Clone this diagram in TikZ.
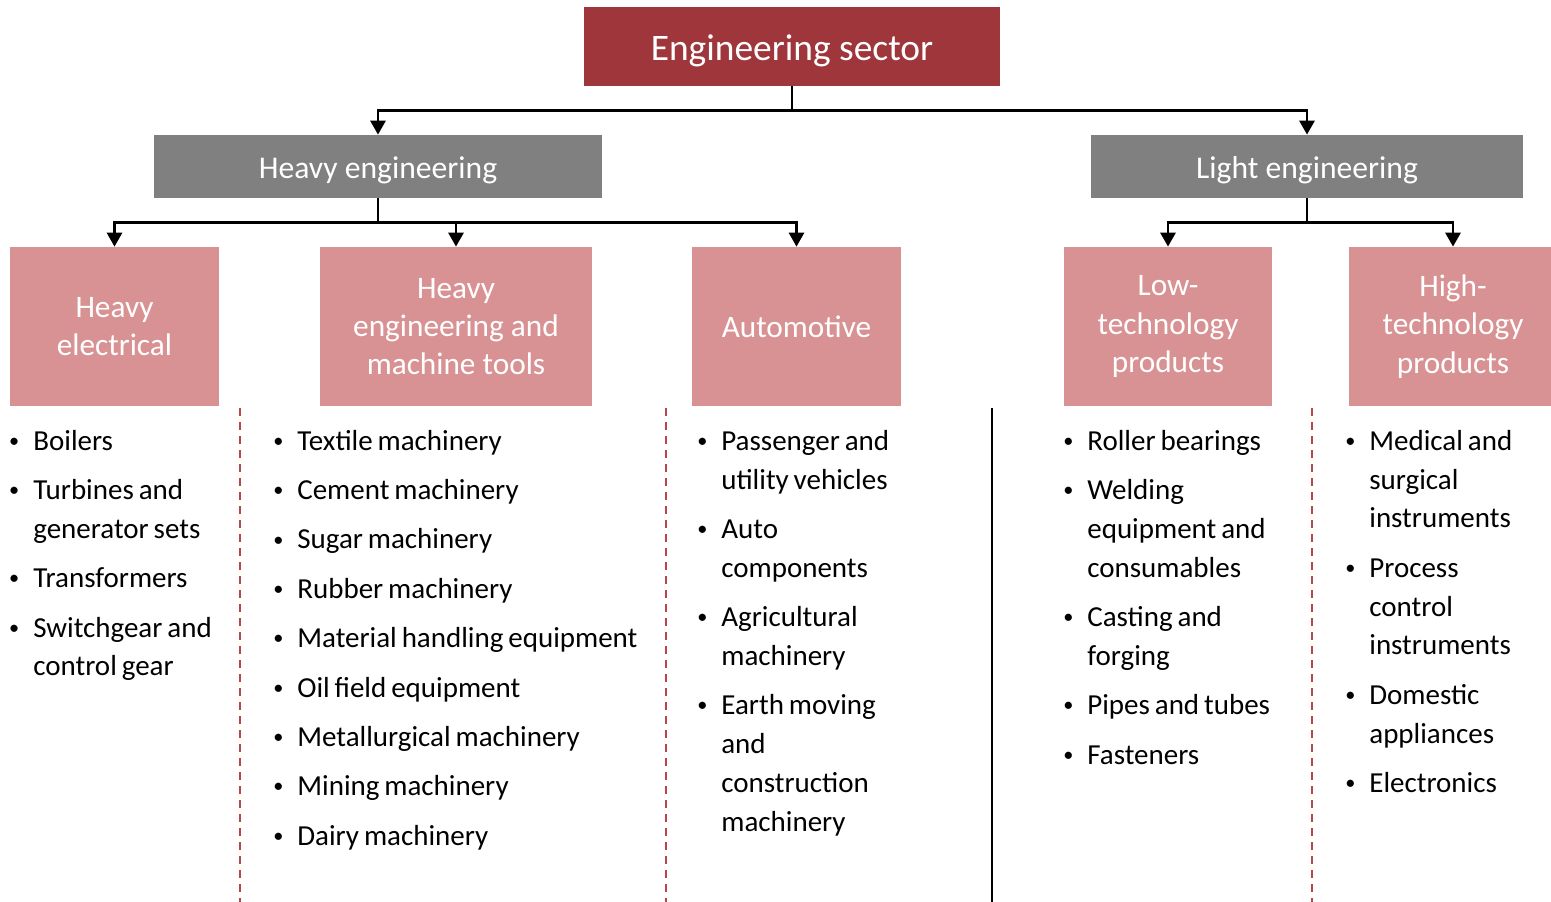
\documentclass[tikz,border=0pt]{standalone}
\usepackage{fontspec}
\usepackage{graphicx}
\setmainfont{Carlito}
\usetikzlibrary{arrows.meta}

\newlength{\px}
\setlength{\px}{0.02cm}

\definecolor{sectorred}{RGB}{158,54,60}
\definecolor{groupgray}{RGB}{128,128,128}
\definecolor{subpink}{RGB}{217,146,148}
\definecolor{dashred}{RGB}{184,70,76}

% small bullet and the list used under each sub-sector
\newcommand{\itemdot}{\raisebox{0.1em}{\scalebox{0.7}{\textbullet}}}
\newenvironment{itemcol}{\raggedright\spaceskip=0.17em plus 0.05em\begin{list}{\itemdot}{%
  \setlength{\leftmargin}{25\px}\setlength{\labelwidth}{11\px}%
  \setlength{\labelsep}{14\px}\setlength{\itemsep}{6pt}%
  \setlength{\parsep}{0pt}\setlength{\topsep}{0pt}}}{\end{list}}

\tikzset{
  sectorbox/.style={rectangle, fill=sectorred, text=white, inner sep=0pt,
    minimum width=8.32cm, minimum height=1.58cm, text height=20.4pt, text depth=4.3pt,
    font=\fontsize{21.3}{25}\selectfont},
  groupbox/.style={rectangle, fill=groupgray, text=white, inner sep=0pt,
    minimum height=1.26cm, text height=17.3pt, text depth=3.6pt,
    font=\fontsize{18}{22}\selectfont},
  subbox/.style={rectangle, fill=subpink, text=white, inner sep=0pt, align=center,
    minimum height=3.18cm, font=\fontsize{17.8}{21.8}\selectfont},
  itembox/.style={anchor=north west, inner sep=0pt, text width=9cm,
    font=\fontsize{16.5}{22.1}\selectfont},
  link/.style={line width=1.6pt, -{Triangle[length=0.28cm,width=0.3cm]}},
  divider/.style={line width=1.2pt},
  dashdivider/.style={divider, dashred, dash pattern=on 8\px off 6\px}
}

\begin{document}
\begin{tikzpicture}[x=0.02cm,y=-0.02cm]
\useasboundingbox (0,0) rectangle (1551,902);

% top level
\node[sectorbox] (sector) at (792,46.5) {Engineering sector};

% heavy and light engineering
\node[groupbox, minimum width=8.96cm] (heavy) at (378,166.5) {Heavy engineering};
\node[groupbox, minimum width=8.64cm] (light) at (1307,166.5) {Light engineering};

% sub-sectors
\node[subbox, minimum width=4.18cm] (helec) at (114.5,326.5) {Heavy\\electrical};
\node[subbox, minimum width=5.44cm] (hmach) at (456,326.5) {Heavy\\engineering and\\machine tools};
\node[subbox, minimum width=4.18cm] (auto) at (796.5,326.5) {Automotive};
\node[subbox, minimum width=4.16cm] (lowtech) at (1168,326.5) {Low-\\technology\\products};
\node[subbox, minimum width=4.16cm] (hightech) at (1453,326.5) {High-\\technology\\products};

% connectors
\draw[link] (sector.south) -- ++(0,24) -| (heavy.north);
\draw[link] (sector.south) -- ++(0,24) -| (light.north);
\draw[link] (heavy.south) -- ++(0,24) -| (helec.north);
\draw[link] (heavy.south) -- ++(0,24) -| (hmach.north);
\draw[link] (heavy.south) -- ++(0,24) -| (auto.north);
\draw[link] (light.south) -- ++(0,24) -| (lowtech.north);
\draw[link] (light.south) -- ++(0,24) -| (hightech.north);

% column separators
\draw[dashdivider] (240,408) -- (240,902);
\draw[dashdivider] (666,408) -- (666,902);
\draw[divider] (992,408) -- (992,902);
\draw[dashdivider] (1312,408) -- (1312,902);

% item lists
\node[itembox] (helecitems) at (8,411) {\begin{itemcol}
  \item Boilers
  \item Turbines and\\generator sets
  \item Transformers
  \item Switchgear and\\control gear
\end{itemcol}};
\node[itembox] (hmachitems) at (272,411) {\begin{itemcol}
  \item Textile machinery
  \item Cement machinery
  \item Sugar machinery
  \item Rubber machinery
  \item Material handling equipment
  \item Oil field equipment
  \item Metallurgical machinery
  \item Mining machinery
  \item Dairy machinery
\end{itemcol}};
\node[itembox] (autoitems) at (696,411) {\begin{itemcol}
  \item Passenger and\\utility vehicles
  \item Auto\\components
  \item Agricultural\\machinery
  \item Earth moving\\and\\construction\\machinery
\end{itemcol}};
\node[itembox] (lowtechitems) at (1062,411) {\begin{itemcol}
  \item Roller bearings
  \item Welding\\equipment and\\consumables
  \item Casting and\\forging
  \item Pipes and tubes
  \item Fasteners
\end{itemcol}};
\node[itembox] (hightechitems) at (1344,411) {\begin{itemcol}
  \item Medical and\\surgical\\instruments
  \item Process\\control\\instruments
  \item Domestic\\appliances
  \item Electronics
\end{itemcol}};

\end{tikzpicture}
\end{document}
